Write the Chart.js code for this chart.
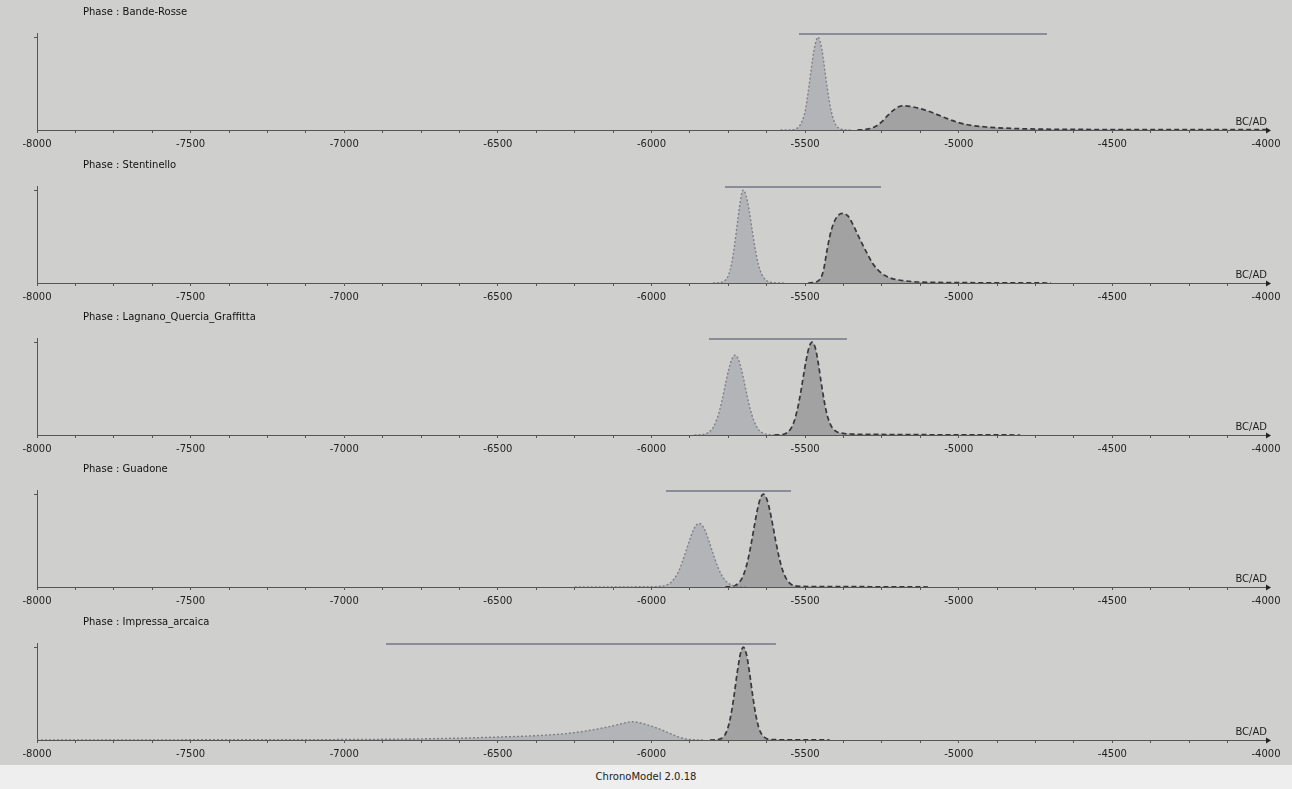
<!DOCTYPE html>
<html>
<head>
<meta charset="utf-8">
<script src="https://cdn.jsdelivr.net/npm/chart.js@4.4.1/dist/chart.umd.min.js"></script>
<style>
  html, body { margin:0; padding:0; width:1292px; height:789px; overflow:hidden; background:#cfd0ce; }
  .panel { position:absolute; left:0; width:1292px; height:153px; }
  .title { position:absolute; left:83px; font-family:"DejaVu Sans", sans-serif; font-size:10px; color:#111; white-space:nowrap; }
  .bcad { position:absolute; right:25px; font-family:"DejaVu Sans", sans-serif; font-size:10px; color:#222; }
  #footer { position:absolute; left:0; top:765px; width:1292px; height:24px; background:#eeeeee;
            font-family:"DejaVu Sans", sans-serif; font-size:10px; color:#222; text-align:center; line-height:24px; }
</style>
</head>
<body>
<div id="root"></div>
<div id="footer">ChronoModel 2.0.18</div>
<script>
// ---------- data ----------
const phaseNames = ["Phase : Bande-Rosse", "Phase : Stentinello", "Phase : Lagnano_Quercia_Graffitta", "Phase : Guadone", "Phase : Impressa_arcaica"];
const xMajorTicks = [-8000, -7500, -7000, -6500, -6000, -5500, -5000, -4500, -4000];
const xMinorPerMajor = 4;

// phase duration bars (start of Begin HPD to end of End HPD)
const barFrom = [-5520, -5761, -5813, -5953, -6864];
const barTo   = [-4713, -5253, -5364, -5546, -5595];
// HPD regions (filled areas)
const startHpdFrom = [-5515, -5761, -5795, -5945, -6864];
const startHpdTo   = [-5403, -5637, -5650, -5770, -5923];
const endHpdFrom   = [-5289, -5442, -5540, -5696, -5744];
const endHpdTo     = [-4713, -5253, -5364, -5553, -5641];

// Bande-Rosse
const s1X = [-5580,-5560,-5540,-5520,-5510,-5500,-5490,-5480,-5470,-5458,-5445,-5430,-5415,-5400,-5385,-5370,-5350];
const s1Y = [0,0.001,0.004,0.036,0.095,0.2,0.41,0.66,0.88,1,0.86,0.5,0.2,0.055,0.012,0.002,0];
const e1X = [-5330,-5310,-5290,-5270,-5250,-5230,-5210,-5185,-5160,-5120,-5080,-5040,-5000,-4960,-4900,-4850,-4780,-4700,-4600,-4400,-4200,-4000];
const e1Y = [0,0.004,0.015,0.04,0.09,0.16,0.22,0.26,0.255,0.225,0.18,0.125,0.08,0.05,0.03,0.02,0.012,0.008,0.006,0.004,0.003,0.003];
// Stentinello
const s2X = [-5800,-5775,-5760,-5750,-5740,-5730,-5720,-5710,-5702,-5692,-5682,-5672,-5662,-5652,-5642,-5627,-5612,-5590,-5570];
const s2Y = [0,0.005,0.03,0.08,0.2,0.4,0.66,0.9,1,0.94,0.78,0.56,0.36,0.2,0.1,0.03,0.008,0.001,0];
const e2X = [-5490,-5465,-5450,-5440,-5430,-5420,-5410,-5395,-5378,-5360,-5340,-5320,-5300,-5280,-5260,-5240,-5220,-5190,-5150,-5100,-5000,-4900,-4800,-4700];
const e2Y = [0,0.01,0.05,0.14,0.33,0.5,0.62,0.72,0.75,0.72,0.6,0.46,0.33,0.21,0.13,0.08,0.05,0.03,0.015,0.008,0.004,0.002,0.001,0];
// Lagnano_Quercia_Graffitta
const s3X = [-5860,-5843,-5828,-5818,-5808,-5798,-5788,-5778,-5768,-5758,-5748,-5738,-5728,-5718,-5708,-5698,-5688,-5678,-5668,-5658,-5648,-5638,-5628,-5613,-5595];
const s3Y = [0,0.002,0.009,0.021,0.045,0.09,0.165,0.27,0.41,0.57,0.715,0.82,0.86,0.82,0.715,0.57,0.41,0.27,0.165,0.09,0.045,0.021,0.009,0.002,0];
const e3X = [-5600,-5590,-5577,-5567,-5557,-5547,-5537,-5527,-5517,-5507,-5497,-5487,-5477,-5467,-5457,-5447,-5437,-5427,-5417,-5407,-5397,-5377,-5347,-5300,-5200,-5100,-5000,-4900,-4800];
const e3Y = [0,0.002,0.004,0.011,0.029,0.066,0.135,0.25,0.41,0.607,0.8,0.946,1,0.94,0.77,0.55,0.35,0.2,0.11,0.06,0.035,0.018,0.01,0.007,0.005,0.003,0.002,0.001,0];
// Guadone
const s4X = [-6250,-6150,-6050,-5990,-5965,-5945,-5935,-5925,-5915,-5905,-5895,-5885,-5875,-5865,-5855,-5845,-5835,-5825,-5815,-5805,-5795,-5785,-5775,-5765,-5755,-5745,-5725,-5705,-5690];
const s4Y = [0,0.001,0.002,0.004,0.01,0.03,0.054,0.093,0.148,0.223,0.315,0.415,0.515,0.605,0.664,0.685,0.664,0.605,0.515,0.415,0.315,0.223,0.148,0.093,0.054,0.03,0.008,0.0015,0];
const e4X = [-5760,-5750,-5736,-5726,-5716,-5706,-5696,-5686,-5676,-5666,-5656,-5646,-5636,-5626,-5616,-5606,-5596,-5586,-5576,-5566,-5556,-5546,-5536,-5516,-5480,-5400,-5300,-5200,-5150,-5100];
const e4Y = [0,0.002,0.0076,0.019,0.044,0.091,0.172,0.295,0.458,0.644,0.823,0.952,1,0.958,0.841,0.678,0.5,0.339,0.21,0.12,0.063,0.03,0.015,0.007,0.005,0.004,0.003,0.002,0.001,0];
// Impressa_arcaica
const s5X = [-8000,-7500,-7000,-6800,-6600,-6500,-6400,-6300,-6250,-6200,-6150,-6110,-6080,-6065,-6045,-6020,-6000,-5975,-5950,-5925,-5905,-5885,-5860,-5830];
const s5Y = [0.001,0.002,0.005,0.01,0.022,0.032,0.043,0.063,0.08,0.105,0.135,0.165,0.19,0.197,0.19,0.17,0.15,0.12,0.085,0.05,0.025,0.01,0.003,0];
const e5X = [-5810,-5791,-5781,-5771,-5761,-5751,-5741,-5731,-5721,-5711,-5701,-5691,-5681,-5671,-5661,-5651,-5641,-5631,-5621,-5600,-5550,-5450,-5420];
const e5Y = [0,0.0015,0.006,0.02,0.056,0.135,0.278,0.487,0.726,0.923,1,0.923,0.726,0.487,0.278,0.135,0.06,0.025,0.01,0.004,0.002,0.001,0];

const startXs = [s1X, s2X, s3X, s4X, s5X];
const startYs = [s1Y, s2Y, s3Y, s4Y, s5Y];
const endXs   = [e1X, e2X, e3X, e4X, e5X];
const endYs   = [e1Y, e2Y, e3Y, e4Y, e5Y];

// ---------- style ----------
const panelTops = [0, 153, 305, 457, 610];
const BAR_LEVEL = 1.035;
const startLine = '#808188', startFill = '#b3b4b8';
const endLine = '#38383a', endFill = '#a2a2a3';
const axisColor = '#555555';

Chart.defaults.font.family = '"DejaVu Sans", sans-serif';
Chart.defaults.font.size = 10;
Chart.defaults.color = '#222';

const clipPlugin = {
  id: 'hpdClip',
  beforeDatasetDraw(chart, args) {
    const ds = chart.data.datasets[args.index];
    if (!ds.clipRange) return;
    const xs = chart.scales.x, a = chart.chartArea;
    const l = xs.getPixelForValue(ds.clipRange[0]), r = xs.getPixelForValue(ds.clipRange[1]);
    chart.ctx.save();
    chart.ctx.beginPath();
    chart.ctx.rect(l, a.top, r - l, a.bottom - a.top + 1);
    chart.ctx.clip();
  },
  afterDatasetDraw(chart, args) {
    const ds = chart.data.datasets[args.index];
    if (ds.clipRange) chart.ctx.restore();
  }
};
const arrowPlugin = {
  id: 'axisArrow',
  afterDraw(chart) {
    const xs = chart.scales.x, ctx = chart.ctx;
    const x = xs.right, y = xs.top;
    ctx.save();
    ctx.fillStyle = '#222';
    ctx.beginPath();
    ctx.moveTo(x + 5, y + 0.5);
    ctx.lineTo(x, y - 2.5);
    ctx.lineTo(x, y + 3.5);
    ctx.closePath();
    ctx.fill();
    ctx.restore();
  }
};

const toPts = (X, Y) => X.map((x, i) => ({ x: x, y: Y[i] }));
const root = document.getElementById('root');

phaseNames.forEach((name, p) => {
  const div = document.createElement('div');
  div.className = 'panel';
  div.style.top = panelTops[p] + 'px';
  const cv = document.createElement('canvas');
  cv.width = 1292; cv.height = 153;
  cv.style.width = '1292px'; cv.style.height = '153px';
  div.appendChild(cv);
  const t = document.createElement('div');
  t.className = 'title'; t.style.top = '6px'; t.textContent = name;
  div.appendChild(t);
  const b = document.createElement('div');
  b.className = 'bcad'; b.style.top = '116px'; b.textContent = 'BC/AD';
  div.appendChild(b);
  root.appendChild(div);

  const sp = toPts(startXs[p], startYs[p]);
  const ep = toPts(endXs[p], endYs[p]);

  new Chart(cv, {
    type: 'line',
    data: {
      datasets: [
        { label: 'bar', data: [{ x: barFrom[p], y: BAR_LEVEL }, { x: barTo[p], y: BAR_LEVEL }],
          borderColor: '#8b8c9a', borderWidth: 2, pointRadius: 0, fill: false, order: 0 },
        { label: 'Begin', data: sp, borderColor: startLine, borderWidth: 1.4, borderDash: [2, 2],
          pointRadius: 0, fill: false, cubicInterpolationMode: 'monotone', order: 1 },
        { label: 'End', data: ep, borderColor: endLine, borderWidth: 1.7, borderDash: [5, 3],
          pointRadius: 0, fill: false, cubicInterpolationMode: 'monotone', order: 1 },
        { label: 'Begin HPD', data: sp, borderWidth: 0, borderColor: 'rgba(0,0,0,0)', backgroundColor: startFill,
          pointRadius: 0, fill: 'origin', cubicInterpolationMode: 'monotone', order: 2,
          clipRange: [startHpdFrom[p], startHpdTo[p]] },
        { label: 'End HPD', data: ep, borderWidth: 0, borderColor: 'rgba(0,0,0,0)', backgroundColor: endFill,
          pointRadius: 0, fill: 'origin', cubicInterpolationMode: 'monotone', order: 2,
          clipRange: [endHpdFrom[p], endHpdTo[p]] }
      ]
    },
    options: {
      responsive: false,
      animation: false,
      events: [],
      layout: { padding: { top: 33, right: 26, left: 0, bottom: 0 } },
      plugins: { legend: { display: false }, tooltip: { enabled: false }, title: { display: false } },
      scales: {
        x: {
          type: 'linear', min: -8000, max: -4000,
          afterBuildTicks(scale) {
            const ticks = [];
            for (let i = 0; i < xMajorTicks.length; i++) {
              ticks.push({ value: xMajorTicks[i] });
              if (i < xMajorTicks.length - 1) {
                const step = (xMajorTicks[i + 1] - xMajorTicks[i]) / xMinorPerMajor;
                for (let k = 1; k < xMinorPerMajor; k++) ticks.push({ value: xMajorTicks[i] + k * step });
              }
            }
            scale.ticks = ticks;
          },
          afterFit(scale) { scale.height = 23; },
          ticks: {
            autoSkip: false, maxRotation: 0, padding: 5, color: '#222',
            callback: (v) => xMajorTicks.includes(v) ? String(v) : ''
          },
          grid: { drawOnChartArea: false, drawTicks: true, tickLength: 3, color: axisColor },
          border: { display: true, color: axisColor, width: 1 }
        },
        y: {
          min: 0, max: 1.045,
          afterBuildTicks(scale) { scale.ticks = [{ value: 1 }]; },
          afterFit(scale) { scale.width = 37; },
          ticks: { display: false },
          grid: { drawOnChartArea: false, drawTicks: true, tickLength: 3, color: axisColor },
          border: { display: true, color: axisColor, width: 1 }
        }
      }
    },
    plugins: [clipPlugin, arrowPlugin]
  });
});
</script>
</body>
</html>
